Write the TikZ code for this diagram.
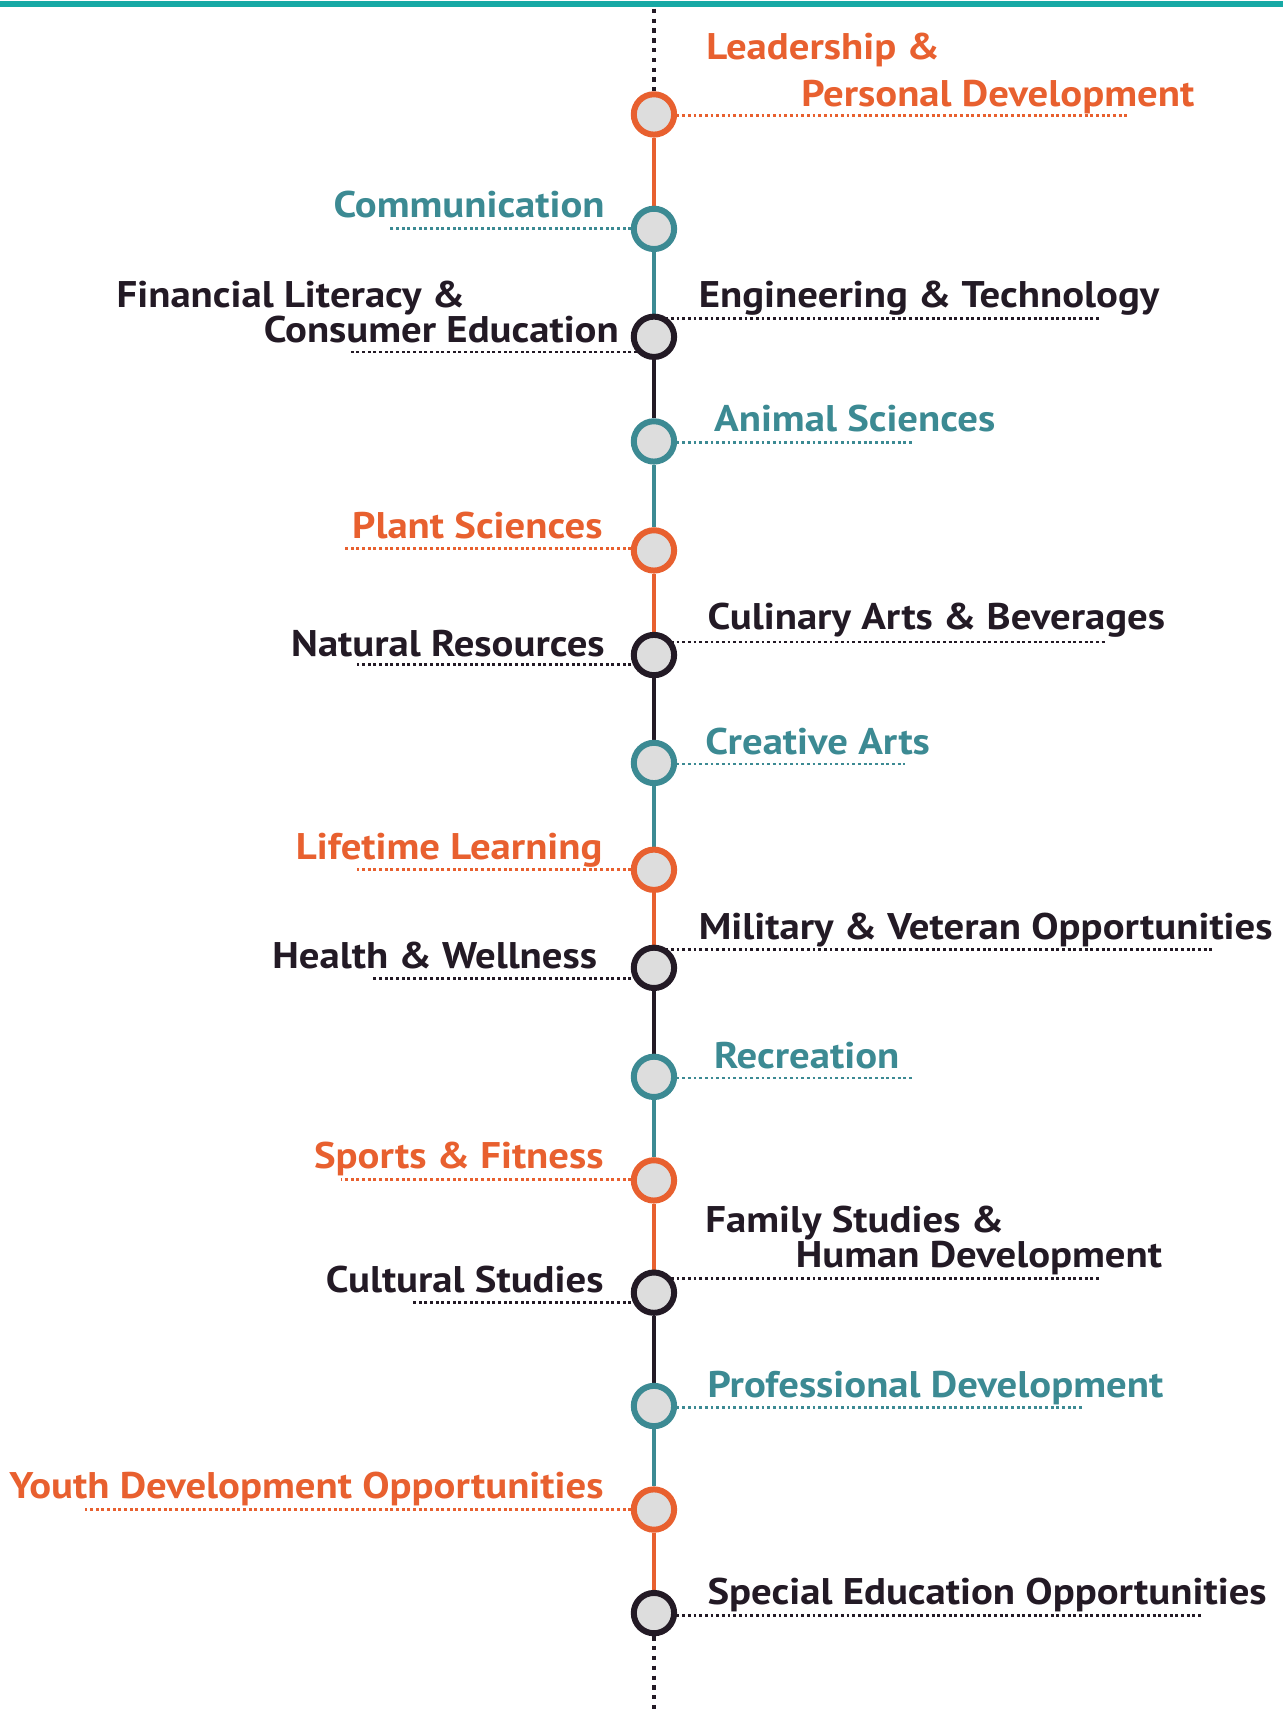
\documentclass[tikz,border=0pt]{standalone}
\usepackage{fontspec}
\setmainfont{PT Sans}[FakeStretch=1.1]
\usetikzlibrary{positioning,backgrounds}

\definecolor{lineorange}{HTML}{E8602F}
\definecolor{lineteal}{HTML}{3C8A93}
\definecolor{lineblack}{HTML}{231A25}
\definecolor{topteal}{HTML}{17A9A5}
\definecolor{stopgray}{HTML}{DDDDDD}

\tikzset{
  stopdot/.style={circle,draw=#1,fill=stopgray,line width=5.5,minimum size=37,inner sep=0},
  seg/.style={draw=#1,line width=3.8},
  leader/.style={draw=#1,line width=2.6,dash pattern=on 2.6 off 2.6},
  axisdots/.style={draw=lineblack,line width=3.8,dash pattern=on 4 off 5},
  lab/.style={text=#1,font=\bfseries\fontsize{34}{40}\selectfont,inner sep=0},
}

\begin{document}
\begin{tikzpicture}[x=1pt,y=-1pt]
		\useasboundingbox (0,0) rectangle (1177,1568);
		\draw[topteal,line width=5] (0,3.5)--(1177,3.5);
		
		% stops along the line
		\node[stopdot=lineorange] (lead) at (600,105) {};
		\node[stopdot=lineteal] (comm) at (600,210) {};
		\node[stopdot=lineblack] (fin) at (600,309) {};
		\node[stopdot=lineteal] (anim) at (600,405) {};
		\node[stopdot=lineorange] (plant) at (600,505) {};
		\node[stopdot=lineblack] (nat) at (600,601) {};
		\node[stopdot=lineteal] (creat) at (600,700) {};
		\node[stopdot=lineorange] (life) at (600,798) {};
		\node[stopdot=lineblack] (health) at (600,888) {};
		\node[stopdot=lineteal] (rec) at (600,988) {};
		\node[stopdot=lineorange] (sport) at (600,1083) {};
		\node[stopdot=lineblack] (cult) at (600,1186) {};
		\node[stopdot=lineteal] (prof) at (600,1290) {};
		\node[stopdot=lineorange] (youth) at (600,1385) {};
		\node[stopdot=lineblack] (spec) at (600,1480) {};
		\coordinate (top) at (600,8);
		\coordinate (bottom) at (600,1568);
		
		% labels
		\node[lab=lineorange,anchor=base west] (leadA) at (648,55) {Leadership \&};
		\node[lab=lineorange,anchor=base west] (leadB) at (735,98) {Personal Development};
		\node[lab=lineteal,anchor=base east] (commL) at (555,200) {Communication};
		\node[lab=lineblack,anchor=base east] (finA) at (427,282) {Financial Literacy \&};
		\node[lab=lineblack,anchor=base east] (finB) at (568,314) {Consumer Education};
		\node[lab=lineblack,anchor=base west] (engL) at (641,282) {Engineering \& Technology};
		\node[lab=lineteal,anchor=base west] (animL) at (655,396) {Animal Sciences};
		\node[lab=lineorange,anchor=base east] (plantL) at (553,494) {Plant Sciences};
		\node[lab=lineblack,anchor=base east] (natL) at (555,602) {Natural Resources};
		\node[lab=lineblack,anchor=base west] (culL) at (649,578) {Culinary Arts \& Beverages};
		\node[lab=lineteal,anchor=base west] (creatL) at (647,692) {Creative Arts};
		\node[lab=lineorange,anchor=base east] (lifeL) at (553,789) {Lifetime Learning};
		\node[lab=lineblack,anchor=base east] (healthL) at (548,889) {Health \& Wellness};
		\node[lab=lineblack,anchor=base west] (milL) at (641,862) {Military \& Veteran Opportunities};
		\node[lab=lineteal,anchor=base west] (recL) at (655,980) {Recreation};
		\node[lab=lineorange,anchor=base east] (sportL) at (554,1072) {Sports \& Fitness};
		\node[lab=lineblack,anchor=base east] (cultL) at (554,1186) {Cultural Studies};
		\node[lab=lineblack,anchor=base west] (famA) at (647,1131) {Family Studies \&};
		\node[lab=lineblack,anchor=base west] (famB) at (730,1163) {Human Development};
		\node[lab=lineteal,anchor=base west] (profL) at (649,1282) {Professional Development};
		\node[lab=lineorange,anchor=base east] (youthL) at (554,1375) {Youth Development Opportunities};
		\node[lab=lineblack,anchor=base west] (specL) at (649,1472) {Special Education Opportunities};
		
		% leader ends
		\coordinate (leadR) at (1035,106);
		\coordinate (commE) at (358,210);
		\coordinate (finE) at (322,323);
		\coordinate (engR) at (1008,292);
		\coordinate (animR) at (838,406);
		\coordinate (plantE) at (315,503);
		\coordinate (natE) at (328,610);
		\coordinate (culR) at (1015,589);
		\coordinate (creatR) at (830,701);
		\coordinate (lifeE) at (328,798);
		\coordinate (healthE) at (342,898);
		\coordinate (milR) at (1112,871);
		\coordinate (recR) at (838,989);
		\coordinate (sportE) at (313,1082);
		\coordinate (cultE) at (378,1195);
		\coordinate (famR) at (1008,1173);
		\coordinate (profR) at (995,1291);
		\coordinate (youthE) at (78,1385);
		\coordinate (specR) at (1102,1482);
		
		\begin{scope}[on background layer]
		\draw[axisdots] (top)--(lead);
		\draw[seg=lineorange] (lead)--(comm);
		\draw[seg=lineteal] (comm)--(fin);
		\draw[seg=lineblack] (fin)--(anim);
		\draw[seg=lineteal] (anim)--(plant);
		\draw[seg=lineorange] (plant)--(nat);
		\draw[seg=lineblack] (nat)--(creat);
		\draw[seg=lineteal] (creat)--(life);
		\draw[seg=lineorange] (life)--(health);
		\draw[seg=lineblack] (health)--(rec);
		\draw[seg=lineteal] (rec)--(sport);
		\draw[seg=lineorange] (sport)--(cult);
		\draw[seg=lineblack] (cult)--(prof);
		\draw[seg=lineteal] (prof)--(youth);
		\draw[seg=lineorange] (youth)--(spec);
		\draw[axisdots] (spec)--(bottom);
		
		\draw[leader=lineorange] (lead.center |- leadR)--(leadR);
		\draw[leader=lineteal] (comm.center |- commE)--(commE);
		\draw[leader=lineblack] (fin.center |- finE)--(finE);
		\draw[leader=lineblack] (fin.center |- engR)--(engR);
		\draw[leader=lineteal] (anim.center |- animR)--(animR);
		\draw[leader=lineorange] (plant.center |- plantE)--(plantE);
		\draw[leader=lineblack] (nat.center |- natE)--(natE);
		\draw[leader=lineblack] (nat.center |- culR)--(culR);
		\draw[leader=lineteal] (creat.center |- creatR)--(creatR);
		\draw[leader=lineorange] (life.center |- lifeE)--(lifeE);
		\draw[leader=lineblack] (health.center |- healthE)--(healthE);
		\draw[leader=lineblack] (health.center |- milR)--(milR);
		\draw[leader=lineteal] (rec.center |- recR)--(recR);
		\draw[leader=lineorange] (sport.center |- sportE)--(sportE);
		\draw[leader=lineblack] (cult.center |- cultE)--(cultE);
		\draw[leader=lineblack] (cult.center |- famR)--(famR);
		\draw[leader=lineteal] (prof.center |- profR)--(profR);
		\draw[leader=lineorange] (youth.center |- youthE)--(youthE);
		\draw[leader=lineblack] (spec.center |- specR)--(specR);
		\end{scope}
	\end{tikzpicture}
\end{document}
